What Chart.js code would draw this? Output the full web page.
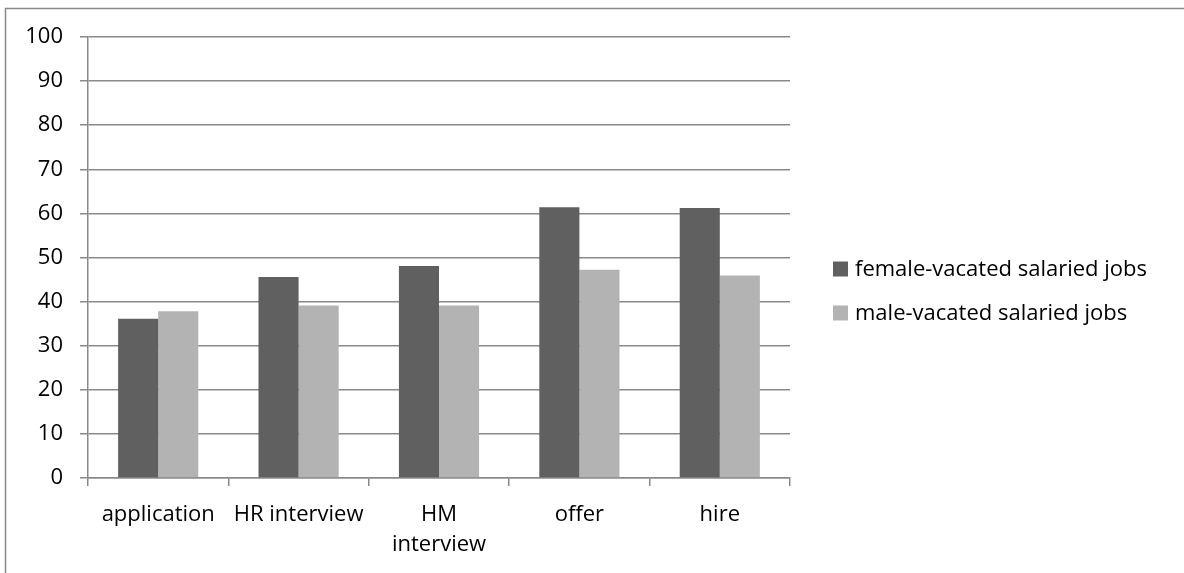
<!DOCTYPE html>
<html>
<head>
<meta charset="utf-8">
<title>Salaried jobs by stage</title>
<script src="https://cdn.jsdelivr.net/npm/chart.js@4.4.1/dist/chart.umd.min.js"></script>
<style>
  html, body { margin: 0; padding: 0; background: #fff; }
  #wrap { position: relative; width: 1184px; height: 573px; }
</style>
</head>
<body>
<div id="wrap"><canvas id="myChart" width="1184" height="573"></canvas></div>
<script>
/* hiring stages and the share at each stage */
var stages = ['application', 'HR interview', ['HM', 'interview'], 'offer', 'hire'];
var femaleVacated = [36.1, 45.6, 48.1, 61.4, 61.2];
var maleVacated = [37.8, 39.1, 39.1, 47.2, 45.9];
var seriesNames = ['female-vacated salaried jobs', 'male-vacated salaried jobs'];
var seriesColors = ['#606060', '#b3b3b3'];
var yTicks = [0, 10, 20, 30, 40, 50, 60, 70, 80, 90, 100];

var lineGray = '#898989';
var font = { family: '"Open Sans", sans-serif', size: 22, lineHeight: 1.36 };

// frame lines along the top and left of the chart box
var framePlugin = {
  id: 'frame',
  beforeDraw: function(chart) {
    var ctx = chart.ctx;
    ctx.save();
    ctx.fillStyle = '#fff';
    ctx.fillRect(0, 0, chart.width, chart.height);
    ctx.strokeStyle = lineGray;
    ctx.lineWidth = 1.5;
    ctx.beginPath();
    ctx.moveTo(5.5, chart.height);
    ctx.lineTo(5.5, 8.5);
    ctx.lineTo(chart.width, 8.5);
    ctx.stroke();
    ctx.restore();
  }
};

// legend to the right of the plot, one row per dataset
var sideLegend = {
  id: 'sideLegend',
  afterDraw: function(chart) {
    var ctx = chart.ctx;
    var area = chart.chartArea;
    var x = area.right + 43;
    var y = (area.top + area.bottom) / 2 + 11;
    ctx.save();
    ctx.font = font.size + 'px ' + font.family;
    ctx.textBaseline = 'middle';
    ctx.fillStyle = '#000';
    chart.data.datasets.forEach(function(ds, i) {
      var cy = y + i * 44;
      ctx.fillStyle = ds.backgroundColor;
      ctx.fillRect(x, cy - 7, 15, 15);
      ctx.fillStyle = '#000';
      ctx.fillText(ds.label, x + 22, cy + 1);
    });
    ctx.restore();
  }
};

var config = {
  type: 'bar',
  data: {
    labels: stages,
    datasets: [{
      label: seriesNames[0],
      data: femaleVacated,
      backgroundColor: seriesColors[0],
      borderWidth: 0
    }, {
      label: seriesNames[1],
      data: maleVacated,
      backgroundColor: seriesColors[1],
      borderWidth: 0
    }]
  },
  options: {
    responsive: false,
    animation: false,
    devicePixelRatio: 1,
    layout: { padding: { top: 37, right: 394, left: 0, bottom: 0 } },
    datasets: {
      bar: { categoryPercentage: 0.571, barPercentage: 1.0 }
    },
    plugins: {
      legend: { display: false },
      tooltip: { enabled: false }
    },
    scales: {
      x: {
        grid: {
          offset: true,
          drawOnChartArea: false,
          drawTicks: true,
          tickLength: 8,
          color: lineGray,
          lineWidth: 1.5
        },
        border: { color: lineGray, width: 1.5 },
        ticks: {
          color: '#000',
          font: font,
          padding: 14,
          maxRotation: 0,
          autoSkip: false
        },
        afterFit: function(scale) { scale.height = 95; }
      },
      y: {
        min: 0,
        max: 100,
        afterBuildTicks: function(scale) {
          scale.ticks = yTicks.map(function(v) { return { value: v }; });
        },
        grid: {
          color: lineGray,
          lineWidth: 1.5,
          drawTicks: true,
          tickLength: 8
        },
        border: { color: lineGray, width: 1.5 },
        ticks: {
          color: '#000',
          font: font,
          padding: 17
        },
        afterFit: function(scale) { scale.width = 88; }
      }
    }
  },
  plugins: [framePlugin, sideLegend]
};

window.onload = function() {
  var ctx = document.getElementById('myChart').getContext('2d');
  window.barChart = new Chart(ctx, config);
};
</script>
</body>
</html>
